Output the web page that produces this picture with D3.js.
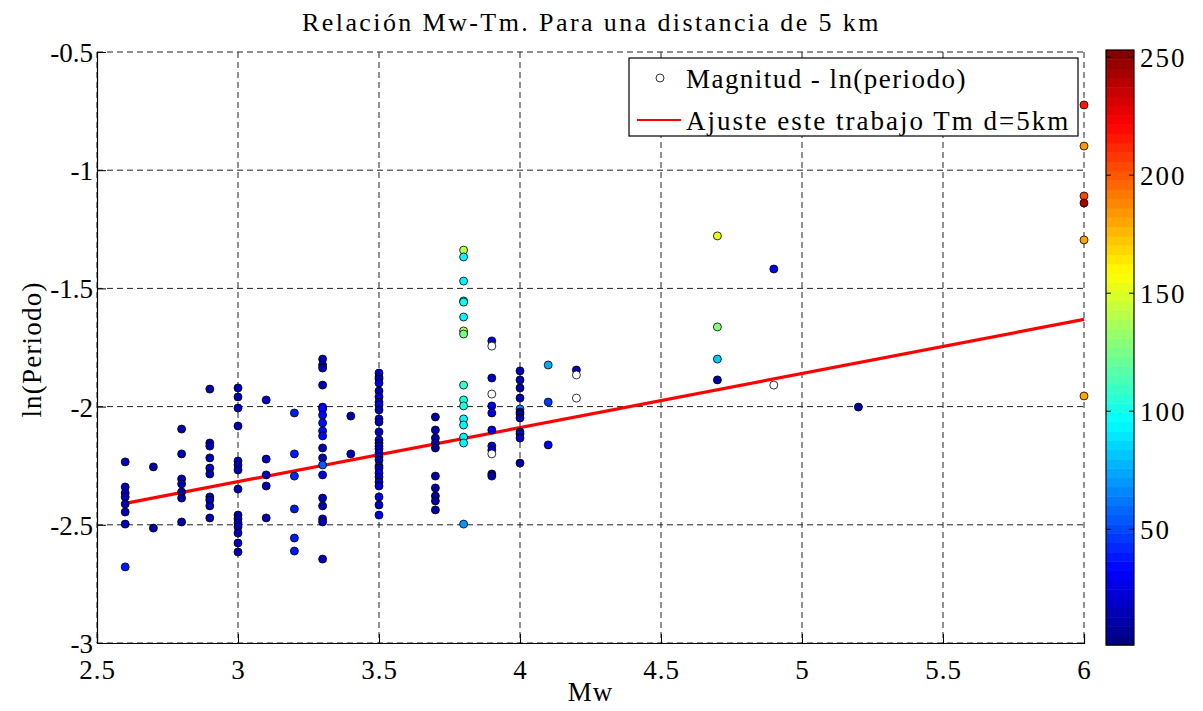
<!DOCTYPE html>
<html>
<head>
<meta charset="utf-8">
<script src="https://cdn.jsdelivr.net/npm/d3@7"></script>
<style>
  html, body { margin: 0; padding: 0; background: #fff; }
  svg text { font-family: "Liberation Serif", "Times New Roman", serif; fill: #000; }
</style>
</head>
<body>
<svg id="chart" width="1203" height="711"></svg>
<script>
// Magnitude (Mw) of each record
const magnitudes = [
  2.6,2.6,2.6,2.6,2.6,2.6,2.6,2.6,
  2.7,2.7,
  2.8,2.8,2.8,2.8,2.8,2.8,2.8,
  2.9,2.9,2.9,2.9,2.9,2.9,2.9,2.9,2.9,2.9,
  3.0,3.0,3.0,3.0,3.0,3.0,3.0,3.0,3.0,3.0,3.0,3.0,3.0,3.0,3.0,
  3.1,3.1,3.1,3.1,3.1,
  3.2,3.2,3.2,3.2,3.2,3.2,
  3.3,3.3,3.3,3.3,3.3,3.3,3.3,3.3,3.3,3.3,3.3,3.3,3.3,3.3,3.3,3.3,3.3,3.3,3.3,
  3.4,3.4,
  3.5,3.5,3.5,3.5,3.5,3.5,3.5,3.5,3.5,3.5,3.5,3.5,3.5,3.5,3.5,3.5,3.5,3.5,3.5,3.5,3.5,3.5,3.5,3.5,3.5,3.5,3.5,3.5,
  3.7,3.7,3.7,3.7,3.7,3.7,3.7,3.7,3.7,3.7,
  3.8,3.8,3.8,3.8,3.8,3.8,3.8,3.8,3.8,3.8,3.8,3.8,3.8,3.8,3.8,3.8,
  3.9,3.9,3.9,3.9,3.9,3.9,3.9,3.9,3.9,3.9,3.9,3.9,
  4.0,4.0,4.0,4.0,4.0,4.0,4.0,4.0,4.0,4.0,4.0,4.0,
  4.1,4.1,4.1,
  4.2,4.2,4.2,
  4.7,4.7,4.7,4.7,
  4.9,4.9,
  5.2,
  6.0,6.0,6.0,6.0,6.0,6.0
];

// ln of the dominant period, same order
const lnPeriods = [
  -2.234,-2.340,-2.365,-2.382,-2.412,-2.446,-2.497,-2.678,
  -2.255,-2.514,
  -2.095,-2.200,-2.306,-2.327,-2.361,-2.387,-2.488,
  -1.926,-2.154,-2.167,-2.217,-2.260,-2.285,-2.382,-2.395,-2.420,-2.471,
  -1.921,-1.959,-2.006,-2.082,-2.230,-2.247,-2.268,-2.349,-2.459,-2.475,-2.492,-2.509,-2.535,-2.577,-2.615,
  -1.972,-2.222,-2.289,-2.336,-2.471,
  -2.027,-2.200,-2.294,-2.433,-2.556,-2.611,
  -1.799,-1.824,-1.837,-1.909,-2.002,-2.010,-2.036,-2.069,-2.103,-2.124,-2.175,-2.217,-2.247,-2.289,-2.387,-2.420,-2.475,-2.488,-2.645,
  -2.040,-2.200,
  -1.858,-1.875,-1.883,-1.900,-1.934,-1.959,-1.981,-1.993,-2.014,-2.052,-2.065,-2.107,-2.141,-2.154,-2.167,-2.179,-2.196,-2.213,-2.226,-2.251,-2.260,-2.281,-2.298,-2.319,-2.336,-2.382,-2.416,-2.459,
  -2.044,-2.099,-2.133,-2.154,-2.175,-2.294,-2.344,-2.378,-2.399,-2.437,
  -1.338,-1.367,-1.469,-1.553,-1.558,-1.621,-1.680,-1.693,-1.909,-1.972,-1.997,-2.052,-2.078,-2.129,-2.154,-2.497,
  -1.722,-1.744,-1.879,-1.947,-1.997,-2.027,-2.099,-2.167,-2.184,-2.200,-2.285,-2.294,
  -1.849,-1.887,-1.921,-1.964,-2.010,-2.023,-2.031,-2.048,-2.107,-2.116,-2.133,-2.239,
  -1.824,-1.981,-2.162,
  -1.845,-1.866,-1.964,
  -1.278,-1.663,-1.799,-1.887,
  -1.418,-1.909,
  -2.002,
  -0.724,-0.898,-1.109,-1.139,-1.295,-1.955
];

// Colour variable of each record (null = no value, drawn unfilled)
const colourValues = [
  15,14,12,15,13,16,14,40,
  12,12,
  15,14,16,13,14,12,14,
  14,16,15,13,14,16,15,13,14,15,
  14,15,18,16,14,16,14,15,14,16,15,14,15,16,13,
  17,15,14,16,14,
  40,38,42,40,38,40,
  14,12,16,15,34,36,33,36,34,33,15,14,55,22,15,13,16,14,16,
  12,14,
  18,26,16,24,15,22,16,25,14,24,15,20,26,16,24,15,22,25,14,24,16,26,15,22,18,24,20,26,
  9,9,10,9,8,10,9,9,10,9,
  140,95,95,92,96,95,140,125,110,100,100,95,95,93,95,70,
  22,null,20,null,26,28,26,22,24,null,12,12,
  14,15,12,14,65,18,16,14,26,24,20,10,
  75,45,30,
  14,null,null,
  152,130,82,10,
  30,null,
  10,
  214,184,205,245,180,180
];

// Least-squares fit: lnT = a * Mw + b
const fitSlope = 0.2288;
const fitIntercept = -3.004;

const xTicks = [2.5, 3, 3.5, 4, 4.5, 5, 5.5, 6];
const xTickLabels = ["2.5", "3", "3.5", "4", "4.5", "5", "5.5", "6"];
const yTicks = [-0.5, -1, -1.5, -2, -2.5, -3];
const yTickLabels = ["-0.5", "-1", "-1.5", "-2", "-2.5", "-3"];
const cbarTicks = [50, 100, 150, 200, 250];
const cbarTickLabels = ["50", "100", "150", "200", "250"];
const colourRange = [1, 253];

const titleText = "Relación Mw-Tm. Para una distancia de 5 km";
const xLabelText = "Mw";
const yLabelText = "ln(Periodo)";
const legendLabels = ["Magnitud - ln(periodo)", "Ajuste este trabajo Tm d=5km"];

// MATLAB-style jet colormap with 64 discrete levels
function jet(t) {
  const clamp = v => Math.max(0, Math.min(1, v));
  const r = clamp(Math.min(4 * t - 1.5, -4 * t + 4.5));
  const g = clamp(Math.min(4 * t - 0.5, -4 * t + 3.5));
  const b = clamp(Math.min(4 * t + 0.5, -4 * t + 2.5));
  return d3.rgb(r * 255, g * 255, b * 255).toString();
}
const nLevels = 64;
const levelColours = d3.range(nLevels).map(i => jet((i + 0.5) / nLevels));
function colourOf(v) {
  if (v === null) return "#ffffff";
  const t = (v - colourRange[0]) / (colourRange[1] - colourRange[0]);
  const idx = Math.max(0, Math.min(nLevels - 1, Math.floor(t * nLevels)));
  return levelColours[idx];
}

const svg = d3.select("#chart");
const plot = { left: 97, right: 1084, top: 52, bottom: 643 };

const x = d3.scaleLinear().domain([2.5, 6]).range([plot.left, plot.right]);
const y = d3.scaleLinear().domain([-3, -0.5]).range([plot.bottom, plot.top]);

svg.append("rect").attr("width", 1203).attr("height", 711).attr("fill", "#fff");

// Dashed grid
const grid = svg.append("g").attr("stroke", "#222").attr("stroke-width", 1)
  .attr("stroke-dasharray", "6,4").attr("fill", "none");
xTicks.forEach(v => {
  grid.append("line").attr("x1", x(v)).attr("x2", x(v))
    .attr("y1", plot.top).attr("y2", plot.bottom);
});
yTicks.forEach(v => {
  grid.append("line").attr("x1", plot.left).attr("x2", plot.right)
    .attr("y1", y(v)).attr("y2", y(v));
});

// Axes (left and bottom), ticks pointing inward
const xAxis = d3.axisBottom(x).tickValues(xTicks)
  .tickFormat((d, i) => xTickLabels[i]).tickSize(-9).tickPadding(17);
const yAxis = d3.axisLeft(y).tickValues(yTicks)
  .tickFormat((d, i) => yTickLabels[i]).tickSize(-9).tickPadding(4);

const gx = svg.append("g").attr("transform", `translate(0,${plot.bottom})`).call(xAxis);
const gy = svg.append("g").attr("transform", `translate(${plot.left},0)`).call(yAxis);
[gx, gy].forEach(g => {
  g.select(".domain").attr("stroke", "#000").attr("stroke-width", 1.2);
  g.selectAll(".tick line").attr("stroke", "#000");
  g.selectAll(".tick text").attr("font-family", "Liberation Serif, serif")
    .attr("font-size", 27).attr("fill", "#000");
});
gx.selectAll(".tick text").attr("dy", "0.71em").attr("letter-spacing", 1);
gy.selectAll(".tick text").attr("dy", "0.35em");

// Fit line over the magnitude range of the data
const mwExtent = d3.extent(magnitudes);
const fitLine = d3.line().x(d => x(d)).y(d => y(fitSlope * d + fitIntercept));
svg.append("path").datum(mwExtent).attr("d", fitLine)
  .attr("stroke", "#ff0000").attr("stroke-width", 3.2).attr("fill", "none");

// Scatter points
const pts = magnitudes.map((m, i) => ({ m, t: lnPeriods[i], c: colourValues[i] }));
svg.append("g").selectAll("circle").data(pts).join("circle")
  .attr("cx", d => x(d.m)).attr("cy", d => y(d.t)).attr("r", 4)
  .attr("fill", d => colourOf(d.c)).attr("stroke", "#000").attr("stroke-width", 0.8);

// Title and axis labels
svg.append("text").attr("x", (plot.left + plot.right) / 2 + 1).attr("y", 31)
  .attr("text-anchor", "middle").attr("font-size", 26).attr("letter-spacing", 2.4)
  .text(titleText);
svg.append("text").attr("x", (plot.left + plot.right) / 2).attr("y", 701)
  .attr("text-anchor", "middle").attr("font-size", 27).attr("letter-spacing", 1)
  .text(xLabelText);
svg.append("text").attr("transform", `translate(41,${(plot.top + plot.bottom) / 2 + 2}) rotate(-90)`)
  .attr("text-anchor", "middle").attr("font-size", 27).attr("letter-spacing", 1.2)
  .text(yLabelText);

// Legend
const lg = svg.append("g");
lg.append("rect").attr("x", 629).attr("y", 58).attr("width", 449).attr("height", 78)
  .attr("fill", "#fff").attr("stroke", "#000").attr("stroke-width", 1.2);
lg.append("circle").attr("cx", 660).attr("cy", 78).attr("r", 4)
  .attr("fill", "#fff").attr("stroke", "#000").attr("stroke-width", 0.8);
lg.append("line").attr("x1", 637).attr("x2", 681).attr("y1", 120).attr("y2", 120)
  .attr("stroke", "#ff0000").attr("stroke-width", 2);
lg.append("text").attr("x", 686).attr("y", 88).attr("font-size", 27)
  .attr("letter-spacing", 1.45).text(legendLabels[0]);
lg.append("text").attr("x", 686).attr("y", 130).attr("font-size", 27)
  .attr("letter-spacing", 2).text(legendLabels[1]);

// Colour bar
const cb = { left: 1106, right: 1134, top: 50, bottom: 645 };
const cy = d3.scaleLinear().domain(colourRange).range([cb.bottom, cb.top]);
const cbg = svg.append("g");
const levelHeight = (cb.bottom - cb.top) / nLevels;
cbg.selectAll("rect.lvl").data(levelColours).join("rect")
  .attr("class", "lvl")
  .attr("x", cb.left).attr("width", cb.right - cb.left)
  .attr("y", (d, i) => cb.bottom - (i + 1) * levelHeight)
  .attr("height", levelHeight + 0.5)
  .attr("fill", d => d);
cbg.append("rect").attr("x", cb.left).attr("y", cb.top)
  .attr("width", cb.right - cb.left).attr("height", cb.bottom - cb.top)
  .attr("fill", "none").attr("stroke", "#000").attr("stroke-width", 1.2);
cbarTicks.forEach((v, i) => {
  cbg.append("line").attr("x1", cb.left).attr("x2", cb.left + 5)
    .attr("y1", cy(v)).attr("y2", cy(v)).attr("stroke", "#000");
  cbg.append("line").attr("x1", cb.right - 5).attr("x2", cb.right)
    .attr("y1", cy(v)).attr("y2", cy(v)).attr("stroke", "#000");
  cbg.append("text").attr("x", cb.right + 6).attr("y", cy(v)).attr("dy", "0.35em")
    .attr("font-size", 27).attr("letter-spacing", 2).text(cbarTickLabels[i]);
});
</script>
</body>
</html>
